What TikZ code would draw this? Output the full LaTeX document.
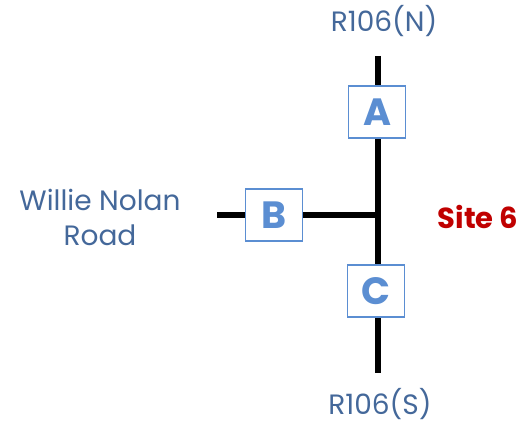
\documentclass[tikz,border=0pt]{standalone}
\usepackage{fontspec}
\setmainfont{Poppins}
\definecolor{txtblue}{HTML}{44689A}
\definecolor{boxblue}{HTML}{5B8ED2}
\definecolor{siteRed}{HTML}{C00000}
\begin{document}
\begin{tikzpicture}[x=1pt,y=-1pt,
  road/.style={line width=6pt, black},
  gate/.style={draw=boxblue, line width=1.8pt, fill=white, minimum width=57pt, minimum height=52pt, inner sep=0pt, text=boxblue, font=\fontsize{38}{40}\selectfont\bfseries},
  lbl/.style={text=txtblue, font=\fontsize{28}{35}\selectfont, align=center, inner sep=0pt}]
\useasboundingbox (0,0) rectangle (524,427);
\coordinate (ntop) at (378,56);
\coordinate (sbot) at (378,373);
\coordinate (junc) at (378,215);
\coordinate (wend) at (217,215);
\draw[road] (ntop) -- (sbot);
\draw[road] (wend) -- (junc);
\node[gate] (A) at (377,112) {A};
\node[gate] (B) at (274,215) {B};
\node[gate] (C) at (376,291) {C};
\node[lbl] (N) at (384,21) {R106(N)};
\node[lbl] (S) at (380,404) {R106(S)};
\node[lbl] (W) at (100,217) {Willie Nolan\\Road};
\node[text=siteRed, font=\fontsize{29}{32}\selectfont\bfseries, inner sep=0pt] (site) at (478,217) {Site 6};
\end{tikzpicture}
\end{document}
